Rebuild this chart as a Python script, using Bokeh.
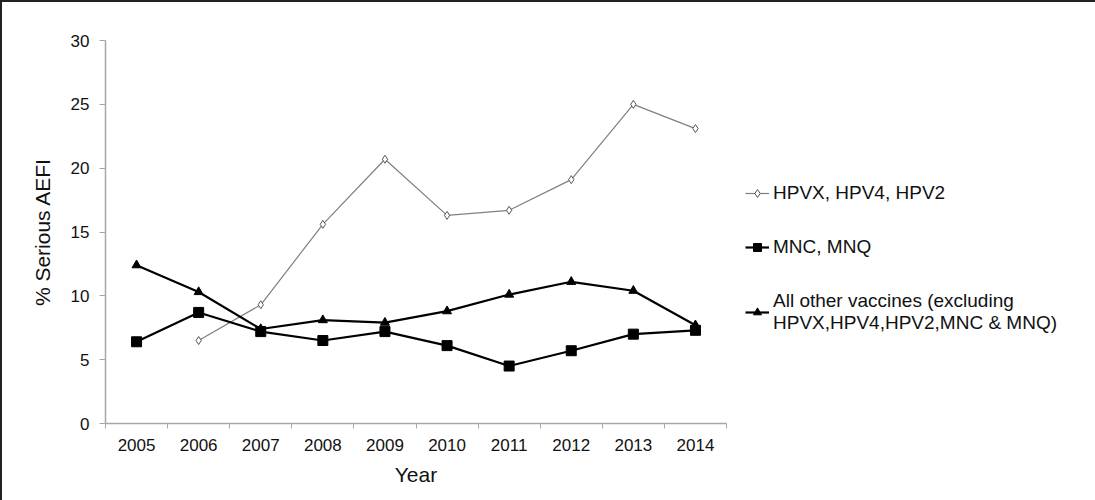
import numpy as np
from bokeh.plotting import figure
from bokeh.models import FixedTicker, Legend, LegendItem, Range1d
from bokeh.embed import file_html
from bokeh.resources import INLINE

years = ["2005", "2006", "2007", "2008", "2009", "2010", "2011", "2012", "2013", "2014"]
hpv = [np.nan, 6.5, 9.3, 15.6, 20.7, 16.3, 16.7, 19.1, 25.0, 23.1]
mnc = [6.4, 8.7, 7.2, 6.5, 7.2, 6.1, 4.5, 5.7, 7.0, 7.3]
others = [12.4, 10.3, 7.4, 8.1, 7.9, 8.8, 10.1, 11.1, 10.4, 7.7]
yticks = [0, 5, 10, 15, 20, 25, 30]

labels = ["HPVX, HPV4, HPV2", "MNC, MNQ",
          "All other vaccines (excluding\nHPVX,HPV4,HPV2,MNC & MNQ)"]

x = [i + 0.5 for i in range(len(years))]
FONT = "Liberation Sans"
GREY = "#a6a6a6"

p = figure(frame_width=621, frame_height=383, output_backend="svg", toolbar_location=None,
           x_range=Range1d(0, len(years)), y_range=Range1d(0, 30),
           min_border_left=103, min_border_right=0, min_border_top=38, min_border_bottom=77)
p.outline_line_color = None
p.xgrid.visible = False
p.ygrid.visible = False
p.styles = {"border-top": "2px solid #222", "border-left": "2px solid #222"}

# axes
p.xaxis.ticker = FixedTicker(ticks=x, minor_ticks=list(range(len(years) + 1)))
p.xaxis.major_label_overrides = {xx: y for xx, y in zip(x, years)}
p.xaxis.major_tick_out = 0
p.xaxis.major_tick_in = 0
p.xaxis.minor_tick_out = 5
p.xaxis.minor_tick_in = 0
p.xaxis.minor_tick_line_color = GREY
p.xaxis.axis_line_color = GREY
p.xaxis.axis_line_width = 1.5
p.xaxis.major_label_text_font = FONT
p.xaxis.major_label_text_font_size = "17px"
p.xaxis.major_label_text_color = "#111"
p.xaxis.major_label_standoff = 10
p.xaxis.axis_label = "Year"
p.xaxis.axis_label_text_font = FONT
p.xaxis.axis_label_text_font_size = "21px"
p.xaxis.axis_label_text_font_style = "normal"
p.xaxis.axis_label_text_color = "#111"
p.xaxis.axis_label_standoff = 9

p.yaxis.ticker = FixedTicker(ticks=yticks, minor_ticks=[])
p.yaxis.major_tick_out = 6
p.yaxis.major_tick_in = 0
p.yaxis.major_tick_line_color = GREY
p.yaxis.axis_line_color = GREY
p.yaxis.axis_line_width = 1.5
p.yaxis.major_label_text_font = FONT
p.yaxis.major_label_text_font_size = "17px"
p.yaxis.major_label_text_color = "#111"
p.yaxis.major_label_standoff = 10
p.yaxis.axis_label = "% Serious AEFI"
p.yaxis.axis_label_text_font = FONT
p.yaxis.axis_label_text_font_size = "21px"
p.yaxis.axis_label_text_font_style = "normal"
p.yaxis.axis_label_text_color = "#111"
p.yaxis.axis_label_standoff = 14

# series
l1 = p.line(x, hpv, line_color="#7f7f7f", line_width=1.2)
s1 = p.scatter(x, hpv, marker="diamond", size=8, fill_color="white", line_color="#555", line_width=1)
l2 = p.line(x, mnc, line_color="black", line_width=2.2)
s2 = p.scatter(x, mnc, marker="square", size=10, fill_color="black", line_color="black")
l3 = p.line(x, others, line_color="black", line_width=2.2)
s3 = p.scatter(x, others, marker="triangle", size=9, fill_color="black", line_color="black")

legend = Legend(items=[LegendItem(label=labels[0], renderers=[l1, s1]),
                       LegendItem(label=labels[1], renderers=[l2, s2]),
                       LegendItem(label=labels[2], renderers=[l3, s3])],
                location=(19, 89))
legend.border_line_color = None
legend.background_fill_alpha = 0
legend.label_text_font = FONT
legend.label_text_font_size = "19px"
legend.label_text_line_height = 0.95
legend.label_text_color = "#111"
legend.glyph_width = 24
legend.label_standoff = 4
legend.spacing = 32
legend.padding = 0
legend.margin = 0
p.add_layout(legend, "right")

open("out.html", "w").write(file_html(p, INLINE))
